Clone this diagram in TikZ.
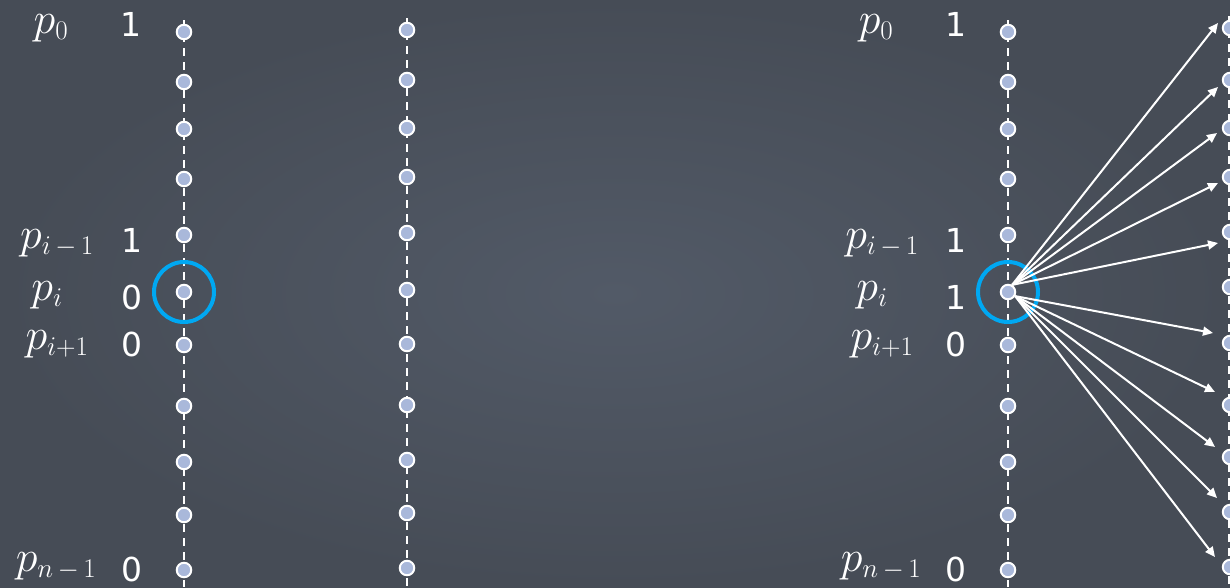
\RequirePackage{fix-cm}
\documentclass[tikz,border=0pt]{standalone}
\usepackage{fontspec}
\newfontfamily\digitfont{DejaVu Sans}
\DeclareMathSizes{44}{44}{27}{20}
\newcommand{\sm}{\mskip3mu-\mskip3mu}
\usetikzlibrary{arrows.meta}
\definecolor{bgin}{HTML}{525A67}
\definecolor{bgout}{HTML}{464C56}
\definecolor{dotfill}{HTML}{A9B8DA}
\definecolor{ring}{HTML}{00A8F2}
\begin{document}
\begin{tikzpicture}[x=1pt,y=-1pt,
 dotnode/.style={circle,draw=white,fill=dotfill,line width=2pt,inner sep=0pt,minimum size=14.5pt},
 rail/.style={white,line width=2.2pt,dash pattern=on 8pt off 6pt},
 ringnode/.style={circle,draw=ring,line width=4pt,minimum size=60pt,inner sep=0pt},
 plabel/.style={text=white,font=\fontsize{44}{48}\selectfont,anchor=base,inner sep=0pt},
 bit/.style={text=white,font=\digitfont\fontsize{33}{35}\selectfont,anchor=base,inner sep=0pt},
 fan/.style={white,line width=2pt,-{Triangle[length=10pt,width=9pt]}}]
\shade[inner color=bgin,outer color=bgout] (0,0) rectangle (1230,587);
\useasboundingbox (0,0) rectangle (1230,587);
% rails
\coordinate (atop) at (184,20); \coordinate (abot) at (184,587);
\coordinate (btop) at (407,18); \coordinate (bbot) at (407,587);
\coordinate (ctop) at (1008,20); \coordinate (cbot) at (1008,587);
\coordinate (dtop) at (1229,16); \coordinate (dbot) at (1229,587);
\draw[rail] (atop) -- (abot);
\draw[rail] (btop) -- (bbot);
\draw[rail] (ctop) -- (cbot);
\draw[rail] (dtop) -- (dbot);
% dots
\foreach \y [count=\i from 0] in {32,82,129,179,235,292,345,406,462,515,570}{
  \node[dotnode] (a\i) at (184,\y) {};
  \node[dotnode] (c\i) at (1008,\y) {};
}
\foreach \y [count=\i from 0] in {30,80,128,177,233,290,344,405,460,513,568}{
  \node[dotnode] (b\i) at (407,\y) {};
}
\foreach \y [count=\i from 0] in {28,80,128,177,232,287,343,405,457,512,567}{
  \node[dotnode] (d\i) at (1230,\y) {};
}
% rings
\node[ringnode] (ringL) at (a5) {};
\node[ringnode] (ringR) at (c5) {};
% left labels
\node[plabel] (lp0) at (51,33) {$p_0$};
\node[plabel] (lpa) at (57,248) {$p_{i\sm1}$};
\node[plabel] (lpb) at (47,300) {$p_i$};
\node[plabel] (lpc) at (57,349) {$p_{i+1}$};
\node[plabel] (lpn) at (56,571) {$p_{n\sm1}$};
\node[bit] (lb0) at (131,36) {1};
\node[bit] (lba) at (132,252) {1};
\node[bit] (lbb) at (132,309) {0};
\node[bit] (lbc) at (132,356) {0};
\node[bit] (lbn) at (132,581) {0};
% right labels
\node[plabel] (rp0) at (876,33) {$p_0$};
\node[plabel] (rpa) at (882,248) {$p_{i\sm1}$};
\node[plabel] (rpb) at (872,300) {$p_i$};
\node[plabel] (rpc) at (882,349) {$p_{i+1}$};
\node[plabel] (rpn) at (881,571) {$p_{n\sm1}$};
\node[bit] (rb0) at (956,36) {1};
\node[bit] (rba) at (956,252) {1};
\node[bit] (rbb) at (956,309) {1};
\node[bit] (rbc) at (956,356) {0};
\node[bit] (rbn) at (956,581) {0};
% arrow tips
\coordinate (t0) at (1218,23);
\coordinate (t1) at (1218,87);
\coordinate (t2) at (1217,133);
\coordinate (t3) at (1218,183);
\coordinate (t4) at (1218,243);
\coordinate (t6) at (1213,333);
\coordinate (t7) at (1215,392);
\coordinate (t8) at (1215,447);
\coordinate (t9) at (1217,498);
\coordinate (t10) at (1215,557);
\foreach \k in {0,1,2,3,4}{ \draw[fan] (c5.60) -- (t\k); }
\foreach \k in {6,7,8,9,10}{ \draw[fan] (c5.-30) -- (t\k); }
\end{tikzpicture}
\end{document}
